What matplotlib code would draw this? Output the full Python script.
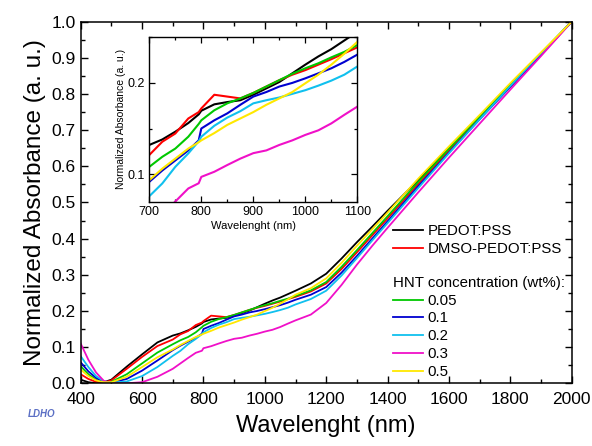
import matplotlib
matplotlib.use('Agg')
import matplotlib.pyplot as plt
from matplotlib.ticker import MultipleLocator, FormatStrFormatter

plt.rcParams['font.family'] = ['Liberation Sans', 'DejaVu Sans']

# wavelengths (nm)
wl = [400, 425, 450, 475, 500, 550, 600, 650, 700, 725, 750, 775, 795, 800, 825, 850, 875,
      900, 925, 950, 975, 1000, 1025, 1050, 1075, 1100, 1150, 1200, 1250, 1300, 1350, 1400,
      1500, 1600, 1700, 1800, 1900, 2000]

# normalized absorbance for each sample
pedot = [0.010, 0.003, 0.000, 0.003, 0.010, 0.046, 0.080, 0.113, 0.132, 0.138, 0.1465, 0.156,
         0.1655, 0.1695, 0.1765, 0.179, 0.181, 0.187, 0.194, 0.201, 0.2105, 0.220, 0.229, 0.237,
         0.2465, 0.256, 0.276, 0.303, 0.345, 0.390, 0.433, 0.477, 0.562, 0.650, 0.737, 0.825,
         0.912, 1.0]
dmso = [0.025, 0.012, 0.004, 0.002, 0.008, 0.040, 0.073, 0.103, 0.121, 0.1355, 0.1445, 0.161,
        0.168, 0.172, 0.187, 0.185, 0.183, 0.189, 0.196, 0.203, 0.209, 0.214, 0.220, 0.226,
        0.2325, 0.239, 0.254, 0.276, 0.316, 0.362, 0.409, 0.456, 0.551, 0.643, 0.733, 0.820,
        0.908, 1.0]
hnt005 = [0.047, 0.025, 0.010, 0.003, 0.004, 0.025, 0.055, 0.085, 0.108, 0.119, 0.128, 0.141,
          0.155, 0.159, 0.170, 0.1776, 0.183, 0.189, 0.196, 0.203, 0.210, 0.216, 0.2215, 0.228,
          0.234, 0.2415, 0.257, 0.280, 0.322, 0.368, 0.415, 0.462, 0.557, 0.648, 0.737, 0.825,
          0.912, 1.0]
hnt01 = [0.058, 0.033, 0.015, 0.004, 0.002, 0.012, 0.035, 0.063, 0.0916, 0.104, 0.115, 0.126,
         0.137, 0.150, 0.159, 0.1666, 0.176, 0.185, 0.190, 0.196, 0.200, 0.205, 0.2105, 0.216,
         0.223, 0.231, 0.245, 0.266, 0.306, 0.352, 0.400, 0.448, 0.545, 0.638, 0.730, 0.820,
         0.910, 1.0]
hnt02 = [0.075, 0.045, 0.020, 0.006, 0.002, 0.005, 0.020, 0.045, 0.0758, 0.0898, 0.108, 0.1227,
         0.136, 0.141, 0.153, 0.162, 0.169, 0.1776, 0.181, 0.184, 0.188, 0.192, 0.197, 0.2025,
         0.209, 0.218, 0.233, 0.256, 0.298, 0.346, 0.395, 0.443, 0.540, 0.636, 0.730, 0.822,
         0.913, 1.0]
hnt03 = [0.110, 0.065, 0.030, 0.007, 0.000, 0.000, 0.003, 0.018, 0.040, 0.055, 0.070, 0.0843,
         0.090, 0.097, 0.1026, 0.110, 0.117, 0.123, 0.126, 0.132, 0.137, 0.143, 0.148, 0.1556,
         0.165, 0.174, 0.190, 0.222, 0.272, 0.328, 0.380, 0.430, 0.528, 0.624, 0.718, 0.812,
         0.905, 1.0]
hnt05 = [0.038, 0.020, 0.008, 0.003, 0.003, 0.018, 0.045, 0.072, 0.0934, 0.106, 0.117, 0.128,
         0.135, 0.137, 0.145, 0.154, 0.161, 0.168, 0.176, 0.183, 0.190, 0.1996, 0.209, 0.220,
         0.232, 0.245, 0.263, 0.290, 0.333, 0.380, 0.426, 0.472, 0.566, 0.655, 0.742, 0.830,
         0.915, 1.0]

series = [pedot, dmso, hnt005, hnt01, hnt02, hnt03, hnt05]
labels = ['PEDOT:PSS', 'DMSO-PEDOT:PSS', '0.05', '0.1', '0.2', '0.3', '0.5']
colors = ['#000000', '#ff0000', '#00c800', '#0000d0', '#10c0ee', '#f010c8', '#ffe800']

fig = plt.figure(figsize=(5.92, 4.46), dpi=100)
ax = fig.add_axes([0.1363, 0.1406, 0.8294, 0.8108])

lines = []
for y, lab, c in zip(series, labels, colors):
    ln, = ax.plot(wl, y, color=c, lw=1.3, label=lab)
    lines.append(ln)

ax.set_xlim(400, 2000)
ax.set_ylim(0, 1.0)
ax.xaxis.set_major_locator(MultipleLocator(200))
ax.xaxis.set_minor_locator(MultipleLocator(100))
ax.yaxis.set_major_locator(MultipleLocator(0.1))
ax.yaxis.set_minor_locator(MultipleLocator(0.05))
ax.yaxis.set_major_formatter(FormatStrFormatter('%.1f'))
ax.tick_params(which='both', direction='in', top=True, right=True, labelsize=12.5, width=1)
ax.tick_params(which='major', length=5)
ax.tick_params(which='minor', length=3)
ax.tick_params(axis='x', pad=6)
for s in ax.spines.values():
    s.set_linewidth(1.1)
ax.set_xlabel('Wavelenght (nm)', fontsize=17, labelpad=6)
ax.set_ylabel('Normalized Absorbance (a. u.)', fontsize=17.5, labelpad=4)

# legends
leg1 = fig.legend(lines[:2], labels[:2], loc='upper left', bbox_to_anchor=(393 / 592, 1 - 224 / 446),
                  frameon=False, fontsize=10.8, handlelength=2.0, handletextpad=0.3,
                  borderpad=0, borderaxespad=0, labelspacing=0.25)
leg2 = fig.legend(lines[2:], labels[2:], loc='upper left', bbox_to_anchor=(393 / 592, 1 - 276 / 446),
                  frameon=False, fontsize=10.8, handlelength=2.0, handletextpad=0.3,
                  borderpad=0, borderaxespad=0, labelspacing=0.25,
                  title='HNT concentration (wt%):', title_fontsize=10.8, alignment='left')

# inset
axin = fig.add_axes([0.2522, 0.5482, 0.3514, 0.3682])
for y, c in zip(series, colors):
    axin.plot(wl, y, color=c, lw=1.5)
axin.set_xlim(700, 1100)
axin.set_ylim(0.07, 0.25)
axin.xaxis.set_major_locator(MultipleLocator(100))
axin.xaxis.set_minor_locator(MultipleLocator(50))
axin.yaxis.set_major_locator(MultipleLocator(0.1))
axin.yaxis.set_minor_locator(MultipleLocator(0.05))
axin.yaxis.set_major_formatter(FormatStrFormatter('%.1f'))
axin.tick_params(which='both', direction='in', top=True, right=True, labelsize=9, width=0.9)
axin.tick_params(which='major', length=4)
axin.tick_params(which='minor', length=2.5)
for s in axin.spines.values():
    s.set_linewidth(1)
axin.set_xlabel('Wavelenght (nm)', fontsize=8, labelpad=2)
axin.set_ylabel('Normalized Absorbance (a. u.)', fontsize=7.5, labelpad=1)

# watermark
fig.text(0.07, 0.072, 'LDHO', fontsize=7, fontweight='bold', style='italic',
         color='#5b6fc4', ha='center', va='center')

fig.savefig('out.png', dpi=100)
